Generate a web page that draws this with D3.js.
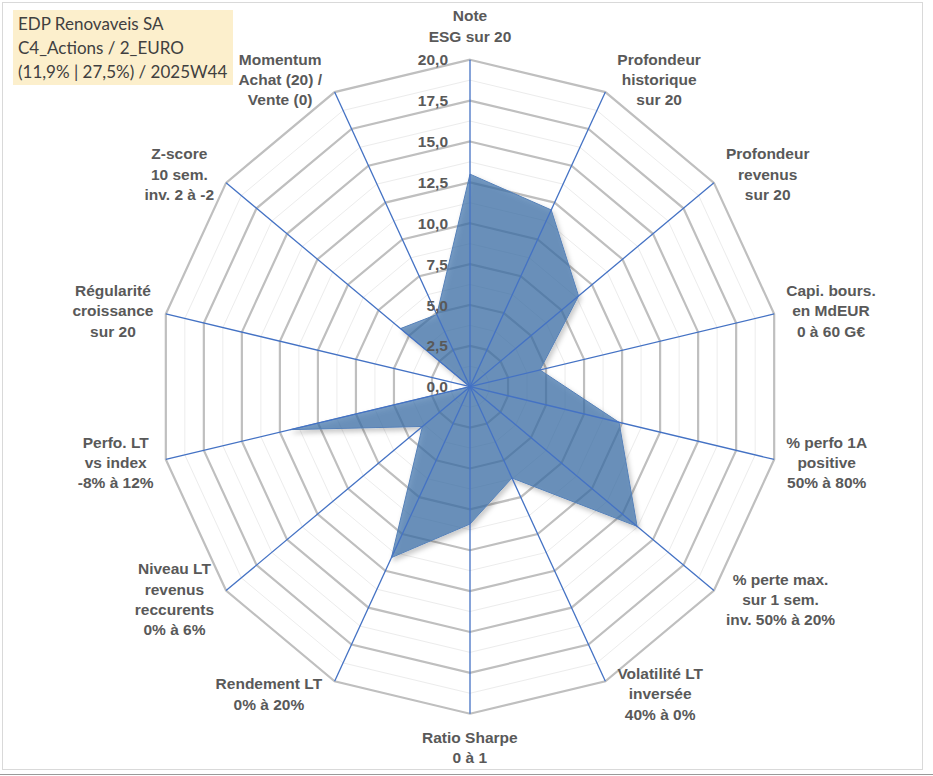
<!DOCTYPE html>
<html>
<head>
<meta charset="utf-8">
<script src="https://cdn.jsdelivr.net/npm/d3@7"></script>
<style>
  body { margin: 0; background: #fff; }
  svg { display: block; }
</style>
</head>
<body>
<script>
// Données du graphique radar
const axisLabels = [
  ["Note", "ESG sur 20"],
  ["Profondeur", "historique", "sur 20"],
  ["Profondeur", "revenus", "sur 20"],
  ["Capi. bours.", "en MdEUR", "0 à 60 G€"],
  ["% perfo 1A", "positive", "50% à 80%"],
  ["% perte max.", "sur 1 sem.", "inv. 50% à 20%"],
  ["Volatilité LT", "inversée", "40% à 0%"],
  ["Ratio Sharpe", "0 à 1"],
  ["Rendement LT", "0% à 20%"],
  ["Niveau LT", "revenus", "reccurents", "0% à 6%"],
  ["Perfo. LT", "vs index", "-8% à 12%"],
  ["Régularité", "croissance", "sur 20"],
  ["Z-score", "10 sem.", "inv. 2 à -2"],
  ["Momentum", "Achat (20) /", "Vente (0)"]
];
const scores = [13.0, 12.0, 8.9, 4.6, 9.8, 13.7, 6.2, 8.4, 11.6, 3.9, 11.8, 0, 5.7, 4.9];
const tickValues = [0, 2.5, 5, 7.5, 10, 12.5, 15, 17.5, 20];
const tickLabels = ["0,0", "2,5", "5,0", "7,5", "10,0", "12,5", "15,0", "17,5", "20,0"];
const minorValues = [1.25, 3.75, 6.25, 8.75, 11.25, 13.75, 16.25, 18.75];
const titleLines = ["EDP Renovaveis SA", "C4_Actions / 2_EURO", "(11,9% | 27,5%) / 2025W44"];

const width = 933, height = 776;
const cx = 470, cy = 386.7;
const n = axisLabels.length;

const svg = d3.select("body").append("svg")
  .attr("width", width)
  .attr("height", height);

// cadre
svg.append("rect")
  .attr("x", 2.5).attr("y", 2.5)
  .attr("width", 920).attr("height", 767)
  .attr("fill", "#fff")
  .attr("stroke", "#d9d9d9");
svg.append("line")
  .attr("x1", 0).attr("x2", width)
  .attr("y1", 774.5).attr("y2", 774.5)
  .attr("stroke", "#9a9a9a");

// ombre de la série
const defs = svg.append("defs");
const f = defs.append("filter").attr("id", "shadow")
  .attr("x", "-10%").attr("y", "-10%").attr("width", "130%").attr("height", "130%");
f.append("feDropShadow")
  .attr("dx", 2).attr("dy", 3).attr("stdDeviation", 2.5)
  .attr("flood-color", "#000").attr("flood-opacity", 0.3);

// échelles radiales (légèrement elliptiques comme l'original)
const rx = d3.scaleLinear().domain([0, 20]).range([0, 312]);
const ry = d3.scaleLinear().domain([0, 20]).range([0, 327]);
const angle = d3.scaleLinear().domain([0, n]).range([0, 2 * Math.PI]);

const px = (i, v) => cx + rx(v) * Math.sin(angle(i));
const py = (i, v) => cy - ry(v) * Math.cos(angle(i));

const ring = v => d3.line().curve(d3.curveLinearClosed)(d3.range(n).map(i => [px(i, v), py(i, v)]));

const g = svg.append("g");

// grille secondaire
g.selectAll("path.minor")
  .data(minorValues)
  .enter().append("path")
  .attr("class", "minor")
  .attr("d", ring)
  .attr("fill", "none")
  .attr("stroke", "#ececec")
  .attr("stroke-width", 1);

// grille principale
g.selectAll("path.major")
  .data(tickValues.slice(1))
  .enter().append("path")
  .attr("class", "major")
  .attr("d", ring)
  .attr("fill", "none")
  .attr("stroke", "#bfbfbf")
  .attr("stroke-width", 2.2);

// série
g.append("path")
  .datum(scores)
  .attr("d", d => d3.line().curve(d3.curveLinearClosed)(d.map((v, i) => [px(i, v), py(i, v)])))
  .attr("fill", "rgb(58,110,168)")
  .attr("fill-opacity", 0.68)
  .attr("stroke", "#5580b8")
  .attr("stroke-width", 1)
  .attr("filter", "url(#shadow)");

// rayons
g.selectAll("line.spoke")
  .data(d3.range(n))
  .enter().append("line")
  .attr("class", "spoke")
  .attr("x1", cx).attr("y1", cy)
  .attr("x2", i => px(i, 20))
  .attr("y2", i => py(i, 20))
  .attr("stroke", "#4472c4")
  .attr("stroke-width", 1.3);

// étiquettes de l'échelle
g.selectAll("text.tick")
  .data(tickValues)
  .enter().append("text")
  .attr("class", "tick")
  .attr("x", cx - 22)
  .attr("y", v => py(0, v))
  .attr("dy", "0.36em")
  .attr("text-anchor", "end")
  .style("font-family", "'Liberation Sans', Arial, sans-serif")
  .style("font-weight", "bold")
  .style("font-size", "15.5px")
  .attr("fill", "#595959")
  .text((v, i) => tickLabels[i]);

// étiquettes des axes
const lineH = 20.3;
axisLabels.forEach((lines, i) => {
  const t = g.append("text")
    .attr("text-anchor", "middle")
    .style("font-family", "'Liberation Sans', Arial, sans-serif")
    .style("font-weight", "bold")
    .style("font-size", "15.5px")
    .attr("fill", "#595959");
  lines.forEach((s, k) => {
    t.append("tspan").attr("x", 0).attr("y", k * lineH).text(s);
  });
  const bb = t.node().getBBox();
  const dx = Math.sin(angle(i)), dy = -Math.cos(angle(i));
  const ex = px(i, 20), ey = py(i, 20);
  let lx, ly;
  if (Math.abs(dx) < 0.01) {
    lx = ex;
    ly = ey + dy * (bb.height / 2 + 15);
  } else {
    lx = ex + Math.sign(dx) * (bb.width / 2 + 12);
    ly = ey + dy * 14;
  }
  const ox = lx - (bb.x + bb.width / 2);
  const oy = ly - (bb.y + bb.height / 2);
  t.attr("transform", `translate(${ox},${oy})`);
});

// encadré titre
svg.append("rect")
  .attr("x", 13).attr("y", 10)
  .attr("width", 220).attr("height", 75)
  .attr("fill", "#fcefcc");
svg.selectAll("text.title")
  .data(titleLines)
  .enter().append("text")
  .attr("class", "title")
  .attr("x", 18)
  .attr("y", (d, i) => 30 + i * 24)
  .style("font-family", "Lato, 'Open Sans', sans-serif")
  .style("font-size", "17px")
  .attr("fill", "#404040")
  .text(d => d);
</script>
</body>
</html>
